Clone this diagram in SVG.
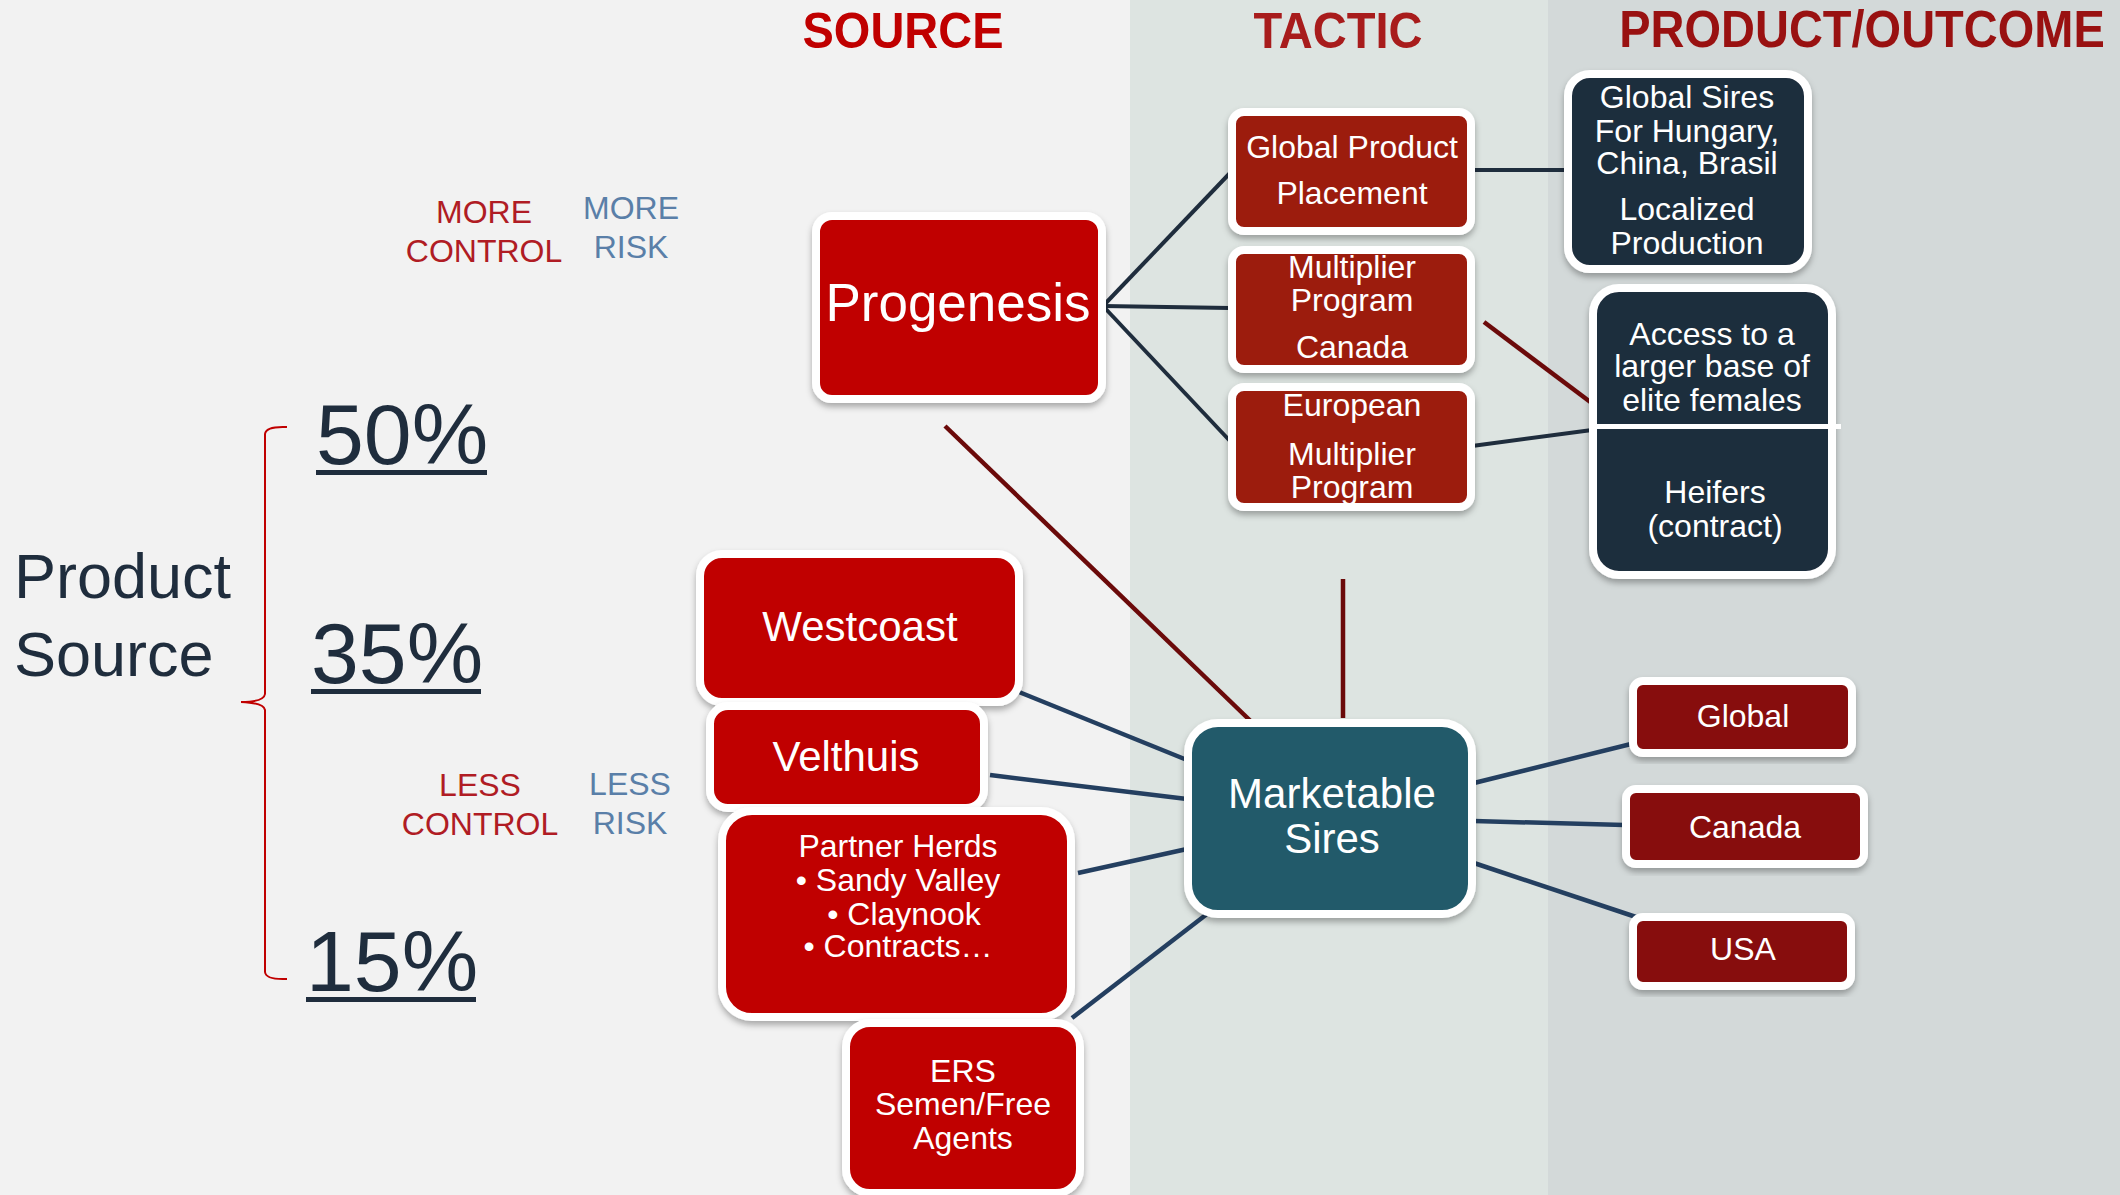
<svg xmlns="http://www.w3.org/2000/svg" width="2120" height="1195" viewBox="0 0 2120 1195">
<defs>
<filter id="sh" x="-10%" y="-10%" width="120%" height="125%">
<feDropShadow dx="0" dy="4" stdDeviation="3" flood-color="#000" flood-opacity="0.3"/>
</filter>
<style>
text{font-family:"Liberation Sans",Arial,sans-serif;}
.t{fill:#fff;text-anchor:middle;}
.title{font-weight:bold;font-size:50px;text-anchor:middle;}
.box{stroke:#fff;stroke-width:8;filter:url(#sh);}
.red{fill:#c00000;}
.brick{fill:#9c1a10;}
.maroon{fill:#870d0a;}
.navy{fill:#1f2d3d;}
.teal{fill:#235a6a;}
.cn{stroke:#1f2d3d;stroke-width:4;fill:none;}
.cb{stroke:#243f60;stroke-width:4.5;fill:none;}
.cr{stroke:#6b0a0a;stroke-width:4.5;fill:none;}
.pct{font-size:86px;fill:#1f2d3d;}
.ctl{font-size:32px;fill:#b01c24;text-anchor:middle;}
.rsk{font-size:32px;fill:#5a7fa8;text-anchor:middle;}
</style>
</defs>
<rect x="0" y="0" width="1130" height="1195" fill="#f2f2f2"/>
<rect x="1130" y="0" width="418" height="1195" fill="#dde4e1"/>
<rect x="1548" y="0" width="572" height="1195" fill="#d3d9d9"/>

<text class="title" x="903" y="48" fill="#c00000" textLength="201" lengthAdjust="spacingAndGlyphs">SOURCE</text>
<text class="title" x="1338" y="48" fill="#a81c1c" textLength="169" lengthAdjust="spacingAndGlyphs">TACTIC</text>
<text class="title" x="0" y="0" font-size="47" style="font-size:47px" fill="#991111" transform="translate(1862,47) scale(1,1.1)">PRODUCT/OUTCOME</text>

<text class="ctl" x="484" y="223">MORE</text>
<text class="ctl" x="484" y="262">CONTROL</text>
<text class="rsk" x="631" y="219">MORE</text>
<text class="rsk" x="631" y="258">RISK</text>
<text class="ctl" x="480" y="796">LESS</text>
<text class="ctl" x="480" y="835">CONTROL</text>
<text class="rsk" x="630" y="795">LESS</text>
<text class="rsk" x="630" y="834">RISK</text>

<text x="14" y="598" font-size="63" fill="#1f2d3d">Product</text>
<text x="14" y="676" font-size="63" fill="#1f2d3d">Source</text>
<path d="M287,427 Q266,426 265,434 L265,694 Q264,702 241,702 Q264,703 265,710 L265,972 Q266,980 287,979" stroke="#c00000" stroke-width="2" fill="none"/>

<text class="pct" x="316" y="464">50%</text>
<rect x="316" y="470" width="171" height="5" fill="#1f2d3d"/>
<text class="pct" x="311" y="683">35%</text>
<rect x="311" y="689" width="170" height="5" fill="#1f2d3d"/>
<text class="pct" x="306" y="991">15%</text>
<rect x="306" y="997" width="170" height="5" fill="#1f2d3d"/>

<g id="connectors">
<line class="cn" x1="1103" y1="306" x2="1230" y2="173"/>
<line class="cn" x1="1103" y1="306" x2="1230" y2="308"/>
<line class="cn" x1="1103" y1="306" x2="1230" y2="441"/>
<line class="cn" x1="1472" y1="170" x2="1566" y2="170"/>
<line class="cr" x1="1484" y1="322" x2="1597" y2="407"/>
<line class="cn" x1="1472" y1="446" x2="1592" y2="430"/>
<line class="cr" x1="945" y1="426" x2="1262" y2="732"/>
<line class="cr" x1="1343" y1="579" x2="1343" y2="718"/>
<line class="cb" x1="1019" y1="692" x2="1187" y2="760"/>
<line class="cb" x1="990" y1="775" x2="1187" y2="799"/>
<line class="cb" x1="1078" y1="873" x2="1187" y2="849"/>
<line class="cb" x1="1072" y1="1018" x2="1207" y2="914"/>
<line class="cb" x1="1474" y1="783" x2="1631" y2="744"/>
<line class="cb" x1="1474" y1="821" x2="1624" y2="825"/>
<line class="cb" x1="1474" y1="863" x2="1636" y2="917"/>
</g>

<g id="progenesis">
<rect class="box red" x="816" y="216" width="286" height="183" rx="16"/>
<text class="t" x="958" y="321" font-size="53">Progenesis</text>
</g>

<g id="global-product-placement">
<rect class="box brick" x="1232" y="112" width="239" height="119" rx="12"/>
<text class="t" x="1352" y="158" font-size="32">Global Product</text>
<text class="t" x="1352" y="204" font-size="32">Placement</text>
</g>

<g id="multiplier-canada">
<rect class="box brick" x="1232" y="250" width="239" height="119" rx="12"/>
<text class="t" x="1352" y="278" font-size="32">Multiplier</text>
<text class="t" x="1352" y="311" font-size="32">Program</text>
<text class="t" x="1352" y="358" font-size="32">Canada</text>
</g>

<g id="european-multiplier">
<rect class="box brick" x="1232" y="387" width="239" height="120" rx="12"/>
<text class="t" x="1352" y="416" font-size="32">European</text>
<text class="t" x="1352" y="465" font-size="32">Multiplier</text>
<text class="t" x="1352" y="498" font-size="32">Program</text>
</g>

<g id="global-sires">
<rect class="box navy" x="1568" y="74" width="240" height="195" rx="22"/>
<text class="t" x="1687" y="108" font-size="32">Global Sires</text>
<text class="t" x="1687" y="142" font-size="32">For Hungary,</text>
<text class="t" x="1687" y="174" font-size="32">China, Brasil</text>
<text class="t" x="1687" y="220" font-size="32">Localized</text>
<text class="t" x="1687" y="254" font-size="32">Production</text>
</g>

<g id="access-heifers">
<rect class="box navy" x="1593" y="288" width="239" height="287" rx="26"/>
<text class="t" x="1712" y="345" font-size="32">Access to a</text>
<text class="t" x="1712" y="377" font-size="32">larger base of</text>
<text class="t" x="1712" y="411" font-size="32">elite females</text>
<rect x="1589" y="424" width="252" height="5" fill="#fff"/>
<text class="t" x="1715" y="503" font-size="32">Heifers</text>
<text class="t" x="1715" y="537" font-size="32">(contract)</text>
</g>

<g id="westcoast">
<rect class="box red" x="700" y="554" width="319" height="148" rx="22"/>
<text class="t" x="860" y="641" font-size="42">Westcoast</text>
</g>

<g id="velthuis">
<rect class="box red" x="710" y="706" width="274" height="102" rx="18"/>
<text class="t" x="846" y="771" font-size="42">Velthuis</text>
</g>

<g id="partner-herds">
<rect class="box red" x="722" y="811" width="349" height="206" rx="30"/>
<text class="t" x="898" y="857" font-size="32">Partner Herds</text>
<text class="t" x="898" y="891" font-size="32">• Sandy Valley</text>
<text class="t" x="904" y="925" font-size="32">• Claynook</text>
<text class="t" x="898" y="957" font-size="32">• Contracts…</text>
</g>

<g id="ers">
<rect class="box red" x="846" y="1023" width="234" height="170" rx="24"/>
<text class="t" x="963" y="1082" font-size="32">ERS</text>
<text class="t" x="963" y="1115" font-size="32">Semen/Free</text>
<text class="t" x="963" y="1149" font-size="32">Agents</text>
</g>

<g id="marketable-sires">
<rect class="box teal" x="1188" y="723" width="284" height="191" rx="30"/>
<text class="t" x="1332" y="808" font-size="42">Marketable</text>
<text class="t" x="1332" y="853" font-size="42">Sires</text>
</g>

<g id="global">
<rect class="box maroon" x="1633" y="681" width="219" height="72" rx="10"/>
<text class="t" x="1743" y="727" font-size="32">Global</text>
</g>

<g id="canada">
<rect class="box maroon" x="1626" y="789" width="238" height="75" rx="10"/>
<text class="t" x="1745" y="838" font-size="32">Canada</text>
</g>

<g id="usa">
<rect class="box maroon" x="1633" y="917" width="218" height="69" rx="10"/>
<text class="t" x="1743" y="960" font-size="32">USA</text>
</g>
</svg>
